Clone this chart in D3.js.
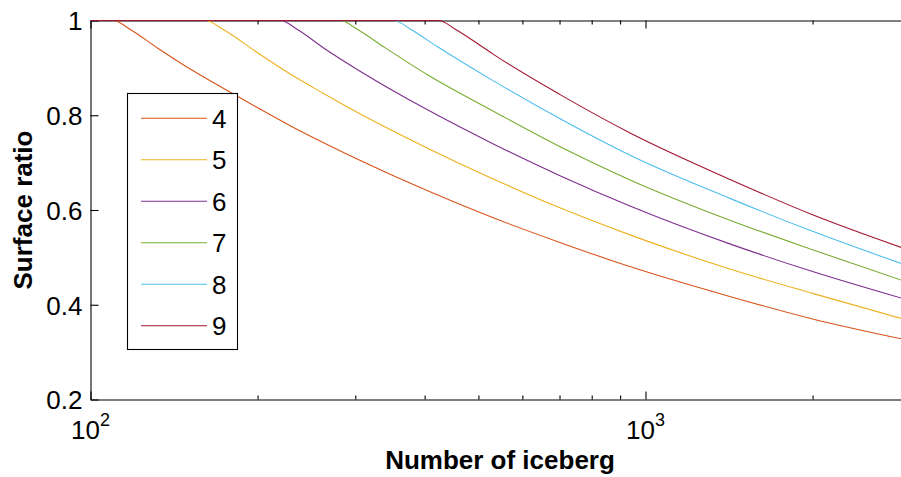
<!DOCTYPE html>
<html><head><meta charset="utf-8">
<script src="https://cdn.jsdelivr.net/npm/d3@7"></script>
<style>
body{margin:0;background:#fff}
svg{display:block}
text{font-family:"Liberation Sans",Arial,Helvetica,sans-serif;fill:#000}
</style>
</head><body>
<svg id="chart" width="901" height="477"></svg>
<script>
// ---- data ----
const seriesNames  = ["4","5","6","7","8","9"];
const seriesColors = ["#D95319","#EDB120","#7E2F8E","#77AC30","#4DBEEE","#A2142F"];

const count4 = [100,110,118,132,151,184,200,229,263,307,404,533,703,940,1423,2000,2890];
const ratio4 = [1,1,0.981,0.942,0.898,0.840,0.816,0.778,0.742,0.704,0.641,0.583,0.531,0.480,0.417,0.370,0.328];

const count5 = [100,161,174,200,229,263,307,404,533,703,940,1423,2000,2890];
const ratio5 = [1,1,0.980,0.932,0.887,0.846,0.802,0.731,0.665,0.604,0.547,0.475,0.424,0.371];

const count6 = [100,220,236,263,307,404,533,703,940,1423,2000,2890];
const ratio6 = [1,1,0.981,0.942,0.892,0.812,0.739,0.672,0.608,0.528,0.470,0.414];

const count7 = [100,282,303,338,404,533,703,940,1423,2000,2890];
const ratio7 = [1,1,0.981,0.944,0.886,0.808,0.733,0.663,0.578,0.516,0.452];

const count8 = [100,352,378,420,533,703,940,1423,2000,2890];
const ratio8 = [1,1,0.981,0.946,0.872,0.792,0.715,0.624,0.555,0.487];

const count9 = [100,424,455,500,533,703,940,1423,2000,2890];
const ratio9 = [1,1,0.981,0.950,0.928,0.843,0.762,0.664,0.590,0.521];

const yTicks      = [0.2,0.4,0.6,0.8,1];
const yTickLabels = ["0.2","0.4","0.6","0.8","1"];
const xMajorTicks = [100,1000];
const xMajorBase  = ["10","10"];
const xMajorExp   = ["2","3"];
const xMinorTicks = [200,300,400,500,600,700,800,900,2000,3000];
const xTitle = "Number of iceberg";
const yTitle = "Surface ratio";

const allCounts = [count4,count5,count6,count7,count8,count9];
const allRatios = [ratio4,ratio5,ratio6,ratio7,ratio8,ratio9];

// ---- layout ----
const svg = d3.select("#chart");
svg.append("rect").attr("width",901).attr("height",477).attr("fill","#fff");

const x = d3.scaleLog().domain([100,3000]).range([90.5, 910.3]);
const y = d3.scaleLinear().domain([0.2,1]).range([399.5, 20.5]);

const FS = 26;

const axisG = svg.append("g");
axisG.append("g").attr("transform",`translate(0,${y(0.2)})`)
  .call(d3.axisBottom(x).tickValues(xMajorTicks).tickSizeInner(-8).tickSizeOuter(0).tickFormat(""));
axisG.append("g").attr("transform",`translate(0,${y(0.2)})`)
  .call(d3.axisBottom(x).tickValues(xMinorTicks).tickSizeInner(-4).tickSizeOuter(0).tickFormat(""))
  .call(g=>g.select(".domain").remove());
axisG.append("g").attr("transform",`translate(0,${y(1)})`)
  .call(d3.axisTop(x).tickValues(xMajorTicks).tickSizeInner(-8).tickSizeOuter(0).tickFormat(""));
axisG.append("g").attr("transform",`translate(0,${y(1)})`)
  .call(d3.axisTop(x).tickValues(xMinorTicks).tickSizeInner(-4).tickSizeOuter(0).tickFormat(""))
  .call(g=>g.select(".domain").remove());
const yAxis = axisG.append("g").attr("transform",`translate(${x(100)},0)`)
  .call(d3.axisLeft(y).tickValues(yTicks).tickSizeInner(-8).tickSizeOuter(0).tickPadding(8)
        .tickFormat((d,i)=>yTickLabels[i]));
yAxis.selectAll("text").attr("font-size",FS).attr("font-family",null).attr("dy","0.36em");

axisG.selectAll(".domain, .tick line").attr("stroke","#000").attr("stroke-width",1.1);

xMajorTicks.forEach((t,i)=>{
  const tx = svg.append("text").attr("x",x(t)).attr("y",438.5)
    .attr("text-anchor","middle").attr("font-size",FS);
  tx.append("tspan").text(xMajorBase[i]);
  tx.append("tspan").attr("dy",-13).attr("font-size",18).text(xMajorExp[i]);
});

svg.append("text").attr("x",500).attr("y",469).attr("text-anchor","middle")
  .attr("font-size",FS).attr("font-weight","bold").text(xTitle);
svg.append("text").attr("transform","translate(32,210) rotate(-90)").attr("text-anchor","middle")
  .attr("font-size",FS).attr("font-weight","bold").text(yTitle);

const line = d3.line().x(d=>x(d[0])).y(d=>y(d[1])).curve(d3.curveMonotoneX);
seriesNames.forEach((name,i)=>{
  const pts = allCounts[i].map((c,j)=>[c, allRatios[i][j]]);
  svg.append("path").datum(pts).attr("d",line)
    .attr("fill","none").attr("stroke",seriesColors[i]).attr("stroke-width",1.1);
});

const legend = svg.append("g");
legend.append("rect").attr("x",127.5).attr("y",93.5).attr("width",110).attr("height",256)
  .attr("fill","#fff").attr("stroke","#000").attr("stroke-width",1.1);
seriesNames.forEach((name,i)=>{
  const ly = 118.3 + i*41.5;
  legend.append("line").attr("x1",141).attr("x2",207).attr("y1",ly).attr("y2",ly)
    .attr("stroke",seriesColors[i]).attr("stroke-width",1.1);
  legend.append("text").attr("x",212).attr("y",ly+9.3).attr("font-size",FS).text(name);
});
</script>
</body></html>
